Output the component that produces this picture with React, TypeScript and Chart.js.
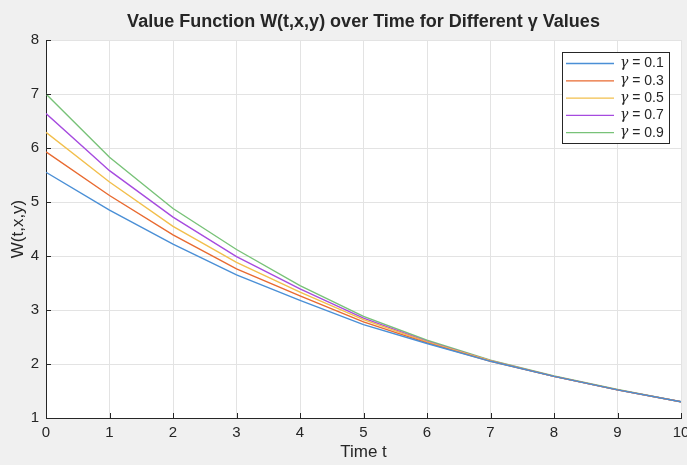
import React, { useEffect, useRef } from "react";
import { Chart, registerables } from "chart.js";

Chart.register(...registerables);

const times = [0, 1, 2, 3, 4, 5, 6, 7, 8, 9, 10];
const gammaLabels = ["γ = 0.1", "γ = 0.3", "γ = 0.5", "γ = 0.7", "γ = 0.9"];
const w01 = [5.55, 4.85, 4.22, 3.65, 3.18, 2.73, 2.38, 2.05, 1.77, 1.52, 1.3];
const w03 = [5.93, 5.12, 4.39, 3.76, 3.26, 2.78, 2.39, 2.05, 1.77, 1.52, 1.3];
const w05 = [6.29, 5.37, 4.55, 3.88, 3.33, 2.82, 2.41, 2.06, 1.77, 1.52, 1.3];
const w07 = [6.64, 5.58, 4.72, 3.99, 3.39, 2.85, 2.42, 2.06, 1.77, 1.52, 1.3];
const w09 = [7.0, 5.83, 4.88, 4.12, 3.45, 2.88, 2.44, 2.07, 1.78, 1.53, 1.3];
const seriesValues = [w01, w03, w05, w07, w09];
const seriesColors = ["#4a8fd6", "#e86a30", "#f2bf4c", "#a64bdf", "#78c278"];
const xTicks = [0, 1, 2, 3, 4, 5, 6, 7, 8, 9, 10];
const yTicks = [1, 2, 3, 4, 5, 6, 7, 8];

const FONT = "'Liberation Sans', Arial, Helvetica, sans-serif";
const AXIS = "#262626";

const bgPlugin = {
  id: "bgPlugin",
  beforeDraw(chart: any) {
    const { ctx, chartArea, width, height } = chart;
    ctx.save();
    ctx.fillStyle = "#f0f0f0";
    ctx.fillRect(0, 0, width, height);
    ctx.fillStyle = "#ffffff";
    ctx.fillRect(chartArea.left, chartArea.top, chartArea.right - chartArea.left, chartArea.bottom - chartArea.top);
    ctx.restore();
  },
};

const tickPlugin = {
  id: "tickPlugin",
  afterDraw(chart: any) {
    const { ctx, chartArea, scales } = chart;
    ctx.save();
    ctx.strokeStyle = AXIS;
    ctx.lineWidth = 1;
    ctx.beginPath();
    yTicks.forEach((v) => {
      const y = Math.round(scales.y.getPixelForValue(v)) + 0.5;
      ctx.moveTo(chartArea.left, y);
      ctx.lineTo(chartArea.left + 5, y);
    });
    xTicks.forEach((v) => {
      const x = Math.round(scales.x.getPixelForValue(v)) + 0.5;
      ctx.moveTo(x, chartArea.bottom);
      ctx.lineTo(x, chartArea.bottom - 5);
    });
    ctx.stroke();
    ctx.restore();
  },
};

const legendPlugin = {
  id: "legendPlugin",
  afterDraw(chart: any) {
    const { ctx, chartArea } = chart;
    const right = chartArea.right - 12;
    const top = chartArea.top + 12;
    const w = 107;
    const h = 91;
    const left = right - w;
    ctx.save();
    ctx.fillStyle = "#ffffff";
    ctx.fillRect(left, top, w, h);
    ctx.strokeStyle = AXIS;
    ctx.lineWidth = 1;
    ctx.strokeRect(Math.round(left) + 0.5, Math.round(top) + 0.5, w, h);
    chart.data.datasets.forEach((ds: any, i: number) => {
      const y = top + 11.5 + i * 17.3;
      ctx.strokeStyle = ds.borderColor;
      ctx.lineWidth = 1.3;
      ctx.beginPath();
      ctx.moveTo(left + 4, y);
      ctx.lineTo(left + 52, y);
      ctx.stroke();
      ctx.textBaseline = "middle";
      ctx.textAlign = "left";
      ctx.fillStyle = AXIS;
      const label: string = ds.label;
      const g = label.slice(0, 1);
      const rest = label.slice(1);
      ctx.font = "italic 14px 'DejaVu Serif', serif";
      ctx.fillText(g, left + 58, y);
      const gw = ctx.measureText(g).width;
      ctx.font = `14px ${FONT}`;
      ctx.fillText(rest, left + 58 + gw, y);
    });
    ctx.restore();
  },
};

export default function App() {
  const ref = useRef<HTMLCanvasElement>(null);
  useEffect(() => {
    if (!ref.current) return;
    const chart = new Chart(ref.current, {
      type: "line",
      data: {
        datasets: seriesValues.map((vals, i) => ({
          label: gammaLabels[i],
          data: times.map((t, j) => ({ x: t, y: vals[j] })),
          borderColor: seriesColors[i],
          backgroundColor: seriesColors[i],
          borderWidth: 1.4,
          pointRadius: 0,
          tension: 0,
          fill: false,
        })),
      },
      options: {
        responsive: false,
        animation: false,
        layout: { padding: { left: 0, right: 6, top: 0, bottom: 0 } },
        plugins: {
          legend: { display: false },
          tooltip: { enabled: false },
          title: {
            display: true,
            text: "Value Function W(t,x,y) over Time for Different γ Values",
            fullSize: false,
            color: AXIS,
            font: { family: FONT, size: 18, weight: "bold" },
            padding: { top: 11, bottom: 7.4 },
          },
        },
        scales: {
          x: {
            type: "linear",
            min: 0,
            max: 10,
            afterFit: (s: any) => { s.height = 47; s.paddingRight = 0; s.paddingLeft = 0; },
            afterBuildTicks: (s: any) => { s.ticks = xTicks.map((v) => ({ value: v })); },
            ticks: { color: AXIS, font: { family: FONT, size: 15 }, padding: 6, maxRotation: 0 },
            grid: { color: "#e3e3e3", drawTicks: false },
            border: { color: AXIS, width: 1 },
            title: { display: true, text: "Time t", color: AXIS, font: { family: FONT, size: 17 }, padding: { top: 0, bottom: 2 } },
          },
          y: {
            type: "linear",
            min: 1,
            max: 8,
            afterFit: (s: any) => { s.width = 46; s.paddingTop = 0; s.paddingBottom = 0; },
            afterBuildTicks: (s: any) => { s.ticks = yTicks.map((v) => ({ value: v })); },
            ticks: { color: AXIS, font: { family: FONT, size: 15 }, padding: 7 },
            grid: { color: "#e3e3e3", drawTicks: false },
            border: { color: AXIS, width: 1 },
            title: { display: true, text: "W(t,x,y)", color: AXIS, font: { family: FONT, size: 17 }, padding: { top: 8, bottom: 0 } },
          },
        },
      },
      plugins: [bgPlugin, tickPlugin, legendPlugin],
    });
    return () => chart.destroy();
  }, []);
  return (
    <div style={{ position: "fixed", left: 0, top: 0, width: 687, height: 465, background: "#f0f0f0" }}>
      <canvas ref={ref} width={687} height={465} style={{ display: "block", width: 687, height: 465 }} />
    </div>
  );
}
